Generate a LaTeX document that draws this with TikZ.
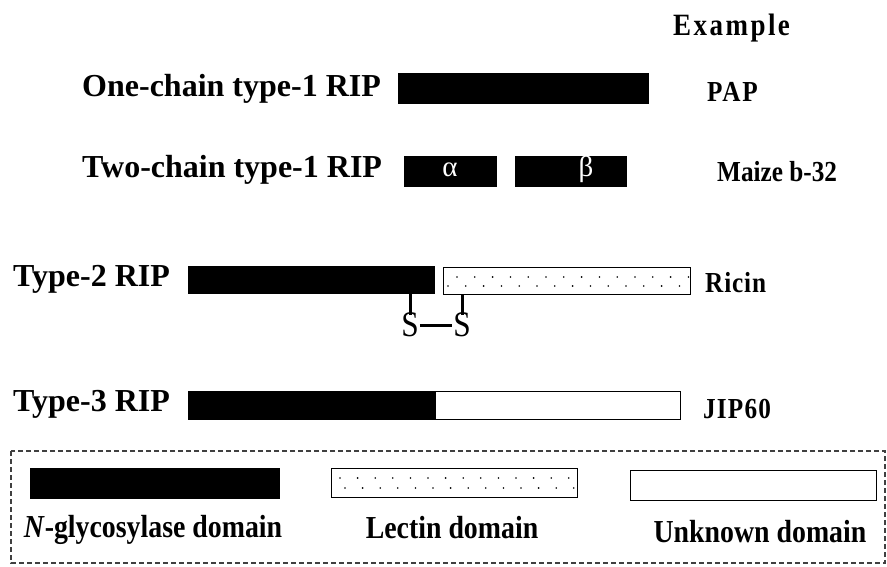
\documentclass[tikz,border=0pt]{standalone}
\usepackage{fontspec}
\setmainfont{Liberation Serif}
\newfontfamily\narrowserif{Liberation Serif}[FakeStretch=0.87]
\newcommand{\spaced}[2]{{\addfontfeature{LetterSpace=#1}#2}}
\begin{document}
\begin{tikzpicture}[x=1pt,y=-1pt,
  lab/.style={anchor=base west, inner sep=0pt, font=\fontsize{32}{36}\selectfont\bfseries},
  ex/.style={anchor=base west, inner sep=0pt, font=\fontsize{29}{32}\selectfont\narrowserif\bfseries},
  leg/.style={anchor=base, inner sep=0pt, font=\fontsize{32}{36}\selectfont\narrowserif\bfseries},
  blk/.style={fill=black, draw=black, line width=0.8pt, inner sep=0pt, anchor=north west},
  wht/.style={fill=white, draw=black, line width=1.2pt, inner sep=0pt, anchor=north west},
  greek/.style={text=white, anchor=base, inner sep=0pt, font=\fontsize{29}{30}\selectfont},
  sulf/.style={inner sep=0pt, font=\fontsize{36}{38}\selectfont\narrowserif},
  bond/.style={line width=3pt},
  dot/.style={fill=black},
]
\useasboundingbox (0,0) rectangle (887,567);

% header
\node[ex, font=\fontsize{31}{33}\selectfont\narrowserif\bfseries] (exhead) at (673,36) {\spaced{8}{Example}};

% one-chain type-1 RIP
\node[lab] (l1) at (82,97) {One-chain type-1 RIP};
\node[blk, minimum width=250pt, minimum height=30pt] (one) at (398,73) {};
\node[ex] (e1) at (707,102) {\spaced{6}{PAP}};

% two-chain type-1 RIP
\node[lab] (l2) at (82,178) {Two-chain type-1 RIP};
\node[blk, minimum width=92pt, minimum height=30pt] (alpha) at (404,156) {};
\node[blk, minimum width=111pt, minimum height=30pt] (beta) at (515,156) {};
\node[greek] (ga) at (450,177) {α};
\node[greek] (gb) at (586,177) {β};
\node[ex] (e2) at (717,182) {Maize b-32};

% type-2 RIP: catalytic chain linked to the lectin chain by a disulfide bond
\node[lab] (l3) at (13,287) {Type-2 RIP};
\node[blk, minimum width=246pt, minimum height=27pt] (t2a) at (188,266) {};
\node[wht, minimum width=247pt, minimum height=27pt] (t2b) at (443,267) {};
\foreach \i in {0,...,13} {
  \fill[dot] (457+\i*17.8,277) circle[radius=0.9pt];
  \fill[dot] (448+\i*17.8,286) circle[radius=0.9pt];
}
\node[ex] (e3) at (705,292) {\spaced{3}{Ricin}};
\node[sulf] (sL) at (410,325) {S};
\node[sulf] (sR) at (462,325) {S};
\draw[bond] (t2a.south -| sL) -- ([yshift=-2pt]sL.north);
\draw[bond] (t2b.south -| sR) -- ([yshift=-2pt]sR.north);
\draw[bond] ([xshift=1pt]sL.east) -- ([xshift=-1pt]sR.west);

% type-3 RIP
\node[lab] (l4) at (13,411) {Type-3 RIP};
\node[blk, minimum width=246pt, minimum height=28pt] (t3a) at (188,391) {};
\node[wht, minimum width=245pt, minimum height=28pt, anchor=west] (t3b) at (t3a.east) {};
\node[ex] (e4) at (703,418) {\spaced{4}{JIP60}};

% legend
\draw[dashed, dash pattern=on 5pt off 3pt, line width=1.1pt, black!75] (11,451) rectangle (885,563);
\node[blk, minimum width=249pt, minimum height=30pt] (kb) at (30,468) {};
\node[wht, minimum width=246pt, minimum height=29pt] (kd) at (331,468) {};
\foreach \i in {0,...,13} {
  \fill[dot] (340+\i*17.6,478) circle[radius=0.9pt];
  \fill[dot] (345+\i*17.6,488) circle[radius=0.9pt];
}
\node[wht, minimum width=246pt, minimum height=30pt] (kw) at (630,470) {};
\node[leg] (tb) at (153,537) {\textit{N}-glycosylase domain};
\node[leg] (td) at (452,538) {Lectin domain};
\node[leg] (tw) at (760,542) {Unknown domain};
\end{tikzpicture}
\end{document}
